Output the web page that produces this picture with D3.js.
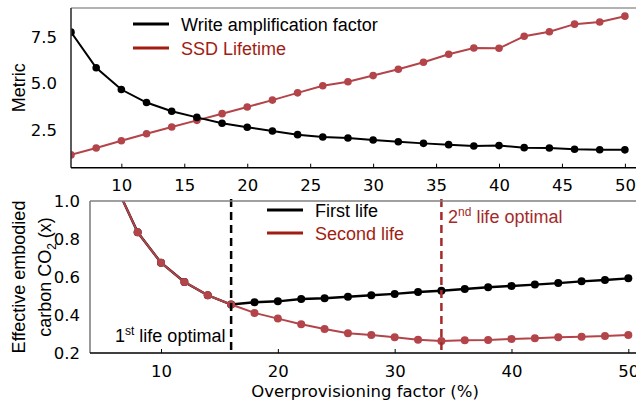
<!DOCTYPE html>
<html>
<head>
<meta charset="utf-8">
<script src="https://cdn.jsdelivr.net/npm/d3@7"></script>
<style>
  html, body { margin: 0; padding: 0; background: #fff; }
  svg { display: block; }
  .tick text { font-family: "DejaVu Sans", sans-serif; font-size: 16.5px; fill: #000; }
  .lab { font-family: "Liberation Sans", Arial, sans-serif; font-size: 18px; }
</style>
</head>
<body>
<div id="chart"></div>
<script>
//------------------------------------------------------
// 1) Données
//------------------------------------------------------

const overprov = [6, 8, 10, 12, 14, 16, 18, 20, 22, 24, 26, 28, 30, 32, 34, 36, 38, 40, 42, 44, 46, 48, 50];

const writeAmp = [7.77, 5.85, 4.68, 3.98, 3.51, 3.18, 2.86, 2.65, 2.45, 2.25, 2.12, 2.07,
                  1.96, 1.87, 1.78, 1.71, 1.64, 1.66, 1.55, 1.53, 1.46, 1.44, 1.43];

const ssdLifetime = [1.16, 1.53, 1.92, 2.30, 2.66, 3.02, 3.38, 3.74, 4.11, 4.50, 4.88, 5.10,
                     5.43, 5.77, 6.15, 6.58, 6.92, 6.90, 7.55, 7.79, 8.20, 8.32, 8.63];

const firstLife = [1.10, 0.835, 0.675, 0.574, 0.504, 0.455, 0.467, 0.472, 0.484, 0.488, 0.496, 0.504,
                   0.511, 0.521, 0.528, 0.537, 0.546, 0.553, 0.560, 0.568, 0.577, 0.584, 0.593];

const secondLife = [1.10, 0.835, 0.675, 0.574, 0.504, 0.455, 0.411, 0.381, 0.351, 0.326, 0.304, 0.295,
                    0.283, 0.270, 0.263, 0.267, 0.268, 0.274, 0.277, 0.283, 0.286, 0.289, 0.295];

const topXTicks = [10, 15, 20, 25, 30, 35, 40, 45, 50];
const topYTicks = [2.5, 5.0, 7.5];
const botXTicks = [10, 20, 30, 40, 50];
const botYTicks = [0.2, 0.4, 0.6, 0.8, 1.0];

const firstOptimal = 16;
const secondOptimal = 34;

//------------------------------------------------------
// 2) Mise en page
//------------------------------------------------------

const width = 636;
const height = 404;

const red = "#b3444a";
const redDark = "#a11d12";
const brown = "#a52a2a";

const svg = d3.select("#chart").append("svg")
  .attr("width", width)
  .attr("height", height)
  .attr("viewBox", [0, 0, width, height]);

const defs = svg.append("defs");

// panneau du haut
const xTop = d3.scaleLinear().domain([6, 51.2]).range([71, 640]);
const yTop = d3.scaleLinear().domain([0.47, 9.07]).range([167.7, 8]);

// panneau du bas
const xBot = d3.scaleLinear().domain([3.92, 51.0]).range([90, 640]);
const yBot = d3.scaleLinear().domain([0.2, 1.0]).range([353, 201]);

function clip(id, x, y) {
  defs.append("clipPath").attr("id", id)
    .append("rect")
    .attr("x", x.range()[0])
    .attr("y", y.range()[1])
    .attr("width", x.range()[1] - x.range()[0])
    .attr("height", y.range()[0] - y.range()[1]);
}
clip("clipTop", xTop, yTop);
clip("clipBot", xBot, yBot);

function spines(x, y, leftColor, topColor) {
  const [x0, x1] = x.range();
  const [y0, y1] = y.range();
  svg.append("line").attr("x1", x0).attr("x2", x1).attr("y1", y1).attr("y2", y1)
    .attr("stroke", topColor).attr("stroke-width", 1.6);
  svg.append("line").attr("x1", x0).attr("x2", x0).attr("y1", y1).attr("y2", y0)
    .attr("stroke", leftColor).attr("stroke-width", 1.6);
  svg.append("line").attr("x1", x0).attr("x2", x1).attr("y1", y0).attr("y2", y0)
    .attr("stroke", "#000").attr("stroke-width", 1.6);
}

function series(g, x, y, values, color, lw, r) {
  const pts = overprov.map((d, i) => [d, values[i]]);
  g.append("path")
    .datum(pts)
    .attr("fill", "none")
    .attr("stroke", color)
    .attr("stroke-width", lw)
    .attr("d", d3.line().x(d => x(d[0])).y(d => y(d[1])));
  g.selectAll(null)
    .data(pts)
    .join("circle")
    .attr("cx", d => x(d[0]))
    .attr("cy", d => y(d[1]))
    .attr("r", r)
    .attr("fill", color);
}

function legendItem(x, y, label, lineColor, textColor) {
  svg.append("line")
    .attr("x1", x).attr("x2", x + 36)
    .attr("y1", y).attr("y2", y)
    .attr("stroke", lineColor)
    .attr("stroke-width", 3);
  svg.append("text")
    .attr("class", "lab")
    .attr("x", x + 48)
    .attr("y", y + 7)
    .attr("fill", textColor)
    .text(label);
}

//------------------------------------------------------
// 3) Panneau du haut : WAF + durée de vie
//------------------------------------------------------

svg.append("g")
  .attr("transform", `translate(0,${yTop.range()[0]})`)
  .call(d3.axisBottom(xTop).tickValues(topXTicks).tickSizeInner(-4).tickSizeOuter(0).tickPadding(12))
  .call(g => g.select(".domain").remove())
  .call(g => g.selectAll(".tick line").attr("stroke-width", 1));

svg.append("g")
  .attr("transform", `translate(${xTop.range()[0]},0)`)
  .call(d3.axisLeft(yTop).tickValues(topYTicks).tickFormat(d3.format(".1f")).tickSize(0).tickPadding(14))
  .call(g => g.select(".domain").remove());

const gTop = svg.append("g").attr("clip-path", "url(#clipTop)");
series(gTop, xTop, yTop, ssdLifetime, red, 2, 3.8);
series(gTop, xTop, yTop, writeAmp, "#000", 2, 3.8);

spines(xTop, yTop, "#333", "#999");

svg.append("text")
  .attr("class", "lab")
  .attr("text-anchor", "middle")
  .attr("transform", `translate(25,${(yTop.range()[0] + yTop.range()[1]) / 2}) rotate(-90)`)
  .text("Metric");

legendItem(133, 24, "Write amplification factor", "#000", "#000");
legendItem(133, 48, "SSD Lifetime", redDark, redDark);

//------------------------------------------------------
// 4) Panneau du bas : carbone effectif
//------------------------------------------------------

svg.append("g")
  .attr("transform", `translate(0,${yBot.range()[0]})`)
  .call(d3.axisBottom(xBot).tickValues(botXTicks).tickSizeInner(-4).tickSizeOuter(0).tickPadding(12))
  .call(g => g.select(".domain").remove())
  .call(g => g.selectAll(".tick line").attr("stroke-width", 1));

svg.append("g")
  .attr("transform", `translate(${xBot.range()[0]},0)`)
  .call(d3.axisLeft(yBot).tickValues(botYTicks).tickFormat(d3.format(".1f")).tickSize(0).tickPadding(10))
  .call(g => g.select(".domain").remove());

const gBot = svg.append("g").attr("clip-path", "url(#clipBot)");

// première vie : la courbe commune est recouverte par la seconde vie
series(gBot, xBot, yBot, firstLife, "#000", 2.4, 4);
series(gBot, xBot, yBot, secondLife, red, 2, 4);

// optimums
svg.append("line")
  .attr("x1", xBot(firstOptimal)).attr("x2", xBot(firstOptimal))
  .attr("y1", yBot.range()[1] - 2).attr("y2", yBot.range()[0])
  .attr("stroke", "#000").attr("stroke-width", 2.5)
  .attr("stroke-dasharray", "8,5");

svg.append("line")
  .attr("x1", xBot(secondOptimal)).attr("x2", xBot(secondOptimal))
  .attr("y1", yBot.range()[1] - 2).attr("y2", yBot.range()[0])
  .attr("stroke", brown).attr("stroke-width", 2.5)
  .attr("stroke-dasharray", "8,5");

spines(xBot, yBot, "#808080", "#808080");

const t1 = svg.append("text").attr("class", "lab").attr("x", 115).attr("y", 342).attr("fill", "#000");
t1.append("tspan").text("1");
t1.append("tspan").attr("dy", -7).attr("font-size", 12).text("st");
t1.append("tspan").attr("dy", 7).text(" life optimal");

const t2 = svg.append("text").attr("class", "lab").attr("x", 448).attr("y", 223).attr("fill", brown);
t2.append("tspan").text("2");
t2.append("tspan").attr("dy", -7).attr("font-size", 12).text("nd");
t2.append("tspan").attr("dy", 7).text(" life optimal");

legendItem(267, 210, "First life", "#000", "#000");
legendItem(267, 233, "Second life", redDark, redDark);

// label Y sur deux lignes
const yMid = (yBot.range()[0] + yBot.range()[1]) / 2;
svg.append("text")
  .attr("class", "lab")
  .attr("text-anchor", "middle")
  .attr("transform", `translate(25,${yMid}) rotate(-90)`)
  .text("Effective embodied");

const yl2 = svg.append("text")
  .attr("class", "lab")
  .attr("text-anchor", "middle")
  .attr("transform", `translate(51,${yMid}) rotate(-90)`);
yl2.append("tspan").text("carbon CO");
yl2.append("tspan").attr("dy", 5).attr("font-size", 12).text("2");
yl2.append("tspan").attr("dy", -5).text(" (x)");

svg.append("text")
  .attr("x", 365)
  .attr("y", 397)
  .attr("text-anchor", "middle")
  .attr("font-family", "DejaVu Sans, sans-serif")
  .attr("font-size", 16.5)
  .text("Overprovisioning factor (%)");
</script>
</body>
</html>
